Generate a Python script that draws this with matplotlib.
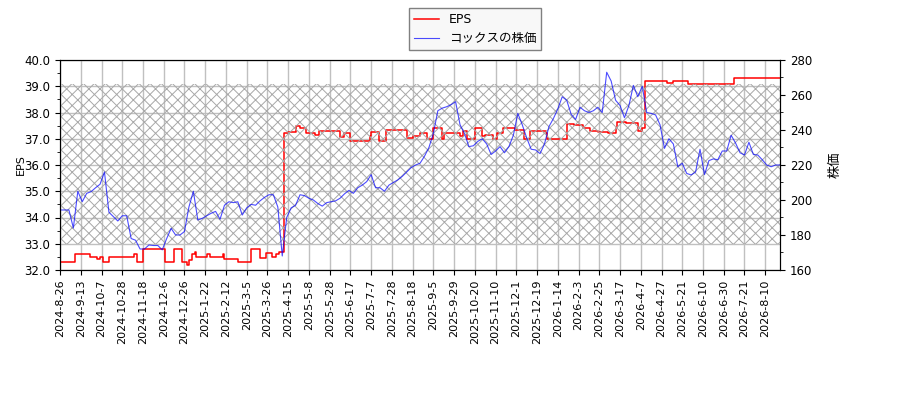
import numpy as np
import matplotlib
matplotlib.use("Agg")
import matplotlib.pyplot as plt

plt.rcParams["font.family"] = ["DejaVu Sans", "Noto Sans CJK JP"]
plt.rcParams["font.size"] = 8
plt.rcParams["hatch.linewidth"] = 0.7

# 取引日インデックス 0..486（14営業日ごとに目盛り）
N_DAYS = 487
TICK_STEP = 14
tick_labels = [
    "2024-8-26", "2024-9-13", "2024-10-7", "2024-10-28", "2024-11-18",
    "2024-12-6", "2024-12-26", "2025-1-22", "2025-2-12", "2025-3-5",
    "2025-3-26", "2025-4-15", "2025-5-8", "2025-5-28", "2025-6-17",
    "2025-7-7", "2025-7-28", "2025-8-18", "2025-9-5", "2025-9-29",
    "2025-10-20", "2025-11-10", "2025-12-1", "2025-12-19", "2026-1-14",
    "2026-2-3", "2026-2-25", "2026-3-17", "2026-4-7", "2026-4-27",
    "2026-5-21", "2026-6-10", "2026-6-30", "2026-7-21", "2026-8-10",
]

# EPS（変化した日のインデックスと値）
eps_idx = [0, 10, 20, 25, 27, 29, 33, 50, 52, 56, 71, 77, 82, 86, 87, 89, 91,
           92, 99, 101, 110, 111, 120, 129, 135, 139, 143, 146, 148, 151, 154,
           159, 162, 166, 172, 175, 189, 192, 196, 209, 210, 215, 220, 234,
           238, 243, 248, 252, 258, 259, 270, 272, 275, 280, 285, 287, 292,
           295, 299, 307, 313, 317, 328, 329, 342, 347, 353, 358, 363, 370,
           375, 376, 382, 390, 393, 395, 410, 414, 424, 427, 455, 486]
eps_val = [32.3, 32.6, 32.5, 32.42, 32.5, 32.3, 32.5, 32.6, 32.3, 32.8, 32.3,
           32.8, 32.3, 32.2, 32.4, 32.6, 32.7, 32.5, 32.6, 32.5, 32.6, 32.42,
           32.3, 32.8, 32.44, 32.66, 32.5, 32.6, 32.7, 37.23, 37.27, 37.5,
           37.4, 37.2, 37.15, 37.3, 37.05, 37.2, 36.92, 37.1, 37.27, 36.92,
           37.35, 37.02, 37.1, 37.2, 37.0, 37.4, 37.0, 37.2, 37.1, 37.3, 37.0,
           37.4, 37.1, 37.15, 37.0, 37.2, 37.42, 37.33, 36.98, 37.3, 37.2,
           36.98, 37.58, 37.52, 37.4, 37.3, 37.25, 37.2, 37.4, 37.65, 37.6,
           37.3, 37.4, 39.2, 39.12, 39.2, 39.1, 39.07, 39.3, 39.3]

# 株価（3営業日ごと）
PRICE_STEP = 3
price = [
    194.3, 194.3, 194.3, 184, 205, 199, 203.8, 204.8, 207, 209,
    216, 193, 190.5, 188, 191, 191, 178, 177, 172, 172,
    174.3, 174, 174, 171.5, 178, 183.8, 180, 180, 182, 196,
    205, 188.6, 189.5, 191, 192.4, 193.5, 189, 197, 199, 198.5,
    199, 191.4, 195.5, 197.5, 197, 199.5, 201.5, 203, 203, 196,
    168, 190, 195.5, 197, 203, 202.5, 201, 200, 198, 196.5,
    198.5, 199, 199.5, 201, 203.5, 205.5, 203.8, 207, 208.5, 210.5,
    214.5, 207, 207, 205, 208.5, 210, 211.5, 213.5, 216, 218.5,
    220, 221, 225, 230, 238, 251, 252.5, 253.3, 254.5, 256.2,
    243, 238, 230.5, 231, 233.5, 235, 232, 226, 228, 230.5,
    227, 230.5, 237, 249.5, 243, 235.5, 229, 228.6, 226.5, 232,
    241.9, 246.5, 252, 259, 257, 249, 246, 253, 251, 250,
    251, 253, 250, 273, 268, 257, 254, 247, 254, 265.5,
    259, 265, 250, 249.5, 248.6, 243, 229.5, 235, 232, 219,
    221, 215.2, 214.3, 216, 229, 214.5, 222.5, 223.5, 223, 228,
    228, 237, 232.5, 227, 225.7, 233, 226, 225.7, 223, 220,
    219, 220, 220,
]

BAND_LOW = 175
BAND_HIGH = 266


def main():
    fig = plt.figure(figsize=(9, 4), dpi=100)
    ax1 = fig.add_axes([0.0667, 0.325, 0.8, 0.525])
    ax2 = ax1.twinx()

    x_price = np.arange(len(price)) * PRICE_STEP
    x_all = np.arange(N_DAYS)

    ax2.fill_between(x_all, BAND_LOW, BAND_HIGH, facecolor="none",
                     edgecolor="#a8a8a8", hatch="xxx", linewidth=0, zorder=0)

    ax1.plot(eps_idx, eps_val, color="red", linewidth=1.1,
             drawstyle="steps-post", label="EPS", zorder=3)
    ax2.plot(x_price, price, color="blue", alpha=0.7, linewidth=0.8,
             label="コックスの株価")

    ax1.set_xlim(0, N_DAYS - 1)
    ax1.set_ylim(32, 40)
    ax2.set_ylim(160, 280)

    ticks = np.arange(len(tick_labels)) * TICK_STEP
    ax1.set_xticks(ticks)
    ax1.set_xticklabels(tick_labels, rotation=90)
    ax1.set_yticks(np.arange(32, 40.01, 1.0))
    ax1.set_yticklabels([f"{v:.1f}" for v in np.arange(32, 40.01, 1.0)],
                        fontsize=8.5)
    ax1.set_yticks(np.arange(32, 40.01, 0.5), minor=True)
    ax2.set_yticks(np.arange(160, 281, 20))
    ax2.set_yticklabels([str(v) for v in range(160, 281, 20)], fontsize=8.5)
    ax2.set_yticks(np.arange(160, 281, 10), minor=True)

    ax1.grid(True, color="#c0c0c0", linewidth=1.0)
    ax1.set_axisbelow(True)

    ax1.set_ylabel("EPS", fontsize=8, labelpad=-1)
    ax2.set_ylabel("株価", fontsize=9.5, labelpad=12)

    h1, l1 = ax1.get_legend_handles_labels()
    h2, l2 = ax2.get_legend_handles_labels()
    fig.legend(h1 + h2, l1 + l2, loc="upper center", fontsize=9,
               bbox_to_anchor=(0.528, 0.98), borderaxespad=0, fancybox=False,
               edgecolor="gray", framealpha=1, facecolor="#f8f8f8")

    fig.savefig("out.png", dpi=100)
    plt.close(fig)


if __name__ == "__main__":
    main()
